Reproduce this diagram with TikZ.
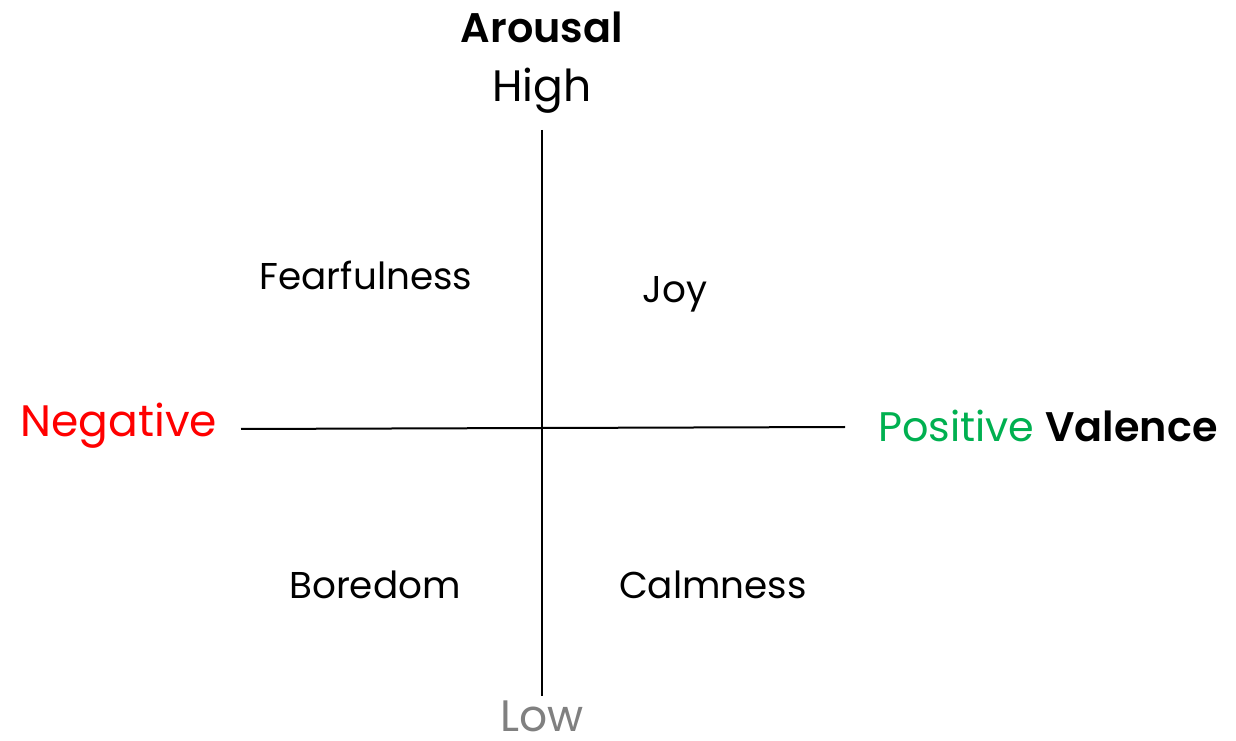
\documentclass[tikz,border=0pt]{standalone}
\usepackage{fontspec}
\setmainfont{Poppins}[BoldFont={Poppins SemiBold}]
\definecolor{negred}{RGB}{255,0,0}
\definecolor{posgreen}{RGB}{0,176,80}
\definecolor{lowgray}{RGB}{128,128,128}
\begin{document}
\begin{tikzpicture}[x=0.75pt,y=-0.75pt,
  axislabel/.style={anchor=base,inner sep=0pt,font=\fontsize{33}{36}\selectfont},
  emolabel/.style={anchor=base,inner sep=0pt,font=\fontsize{28}{32}\selectfont},
  axisline/.style={line width=1.5pt,black}]
\useasboundingbox (0,0) rectangle (1236,741);
\coordinate (vtop) at (542,130);
\coordinate (vbot) at (542,696);
\coordinate (hleft) at (241,429);
\coordinate (hright) at (845,427);
\draw[axisline] (vtop) -- (vbot);
\draw[axisline] (hleft) -- (hright);
\node[axislabel,font=\fontsize{31}{36}\selectfont] (arousal) at (542,43) {\bfseries Arousal};
\node[axislabel] (high) at (542,102) {High};
\node[axislabel,text=lowgray] (low) at (542,731) {Low};
\node[axislabel,text=negred] (neg) at (119,437) {Negative};
\node[axislabel,font=\fontsize{31}{36}\selectfont] (pos) at (1048,442) {\textcolor{posgreen}{Positive} \bfseries Valence};
\node[emolabel] (fear) at (366,290) {Fearfulness};
\node[emolabel] (joy) at (675,303) {Joy};
\node[emolabel] (bored) at (375,598) {Boredom};
\node[emolabel] (calm) at (713,599) {Calmness};
\end{tikzpicture}
\end{document}
